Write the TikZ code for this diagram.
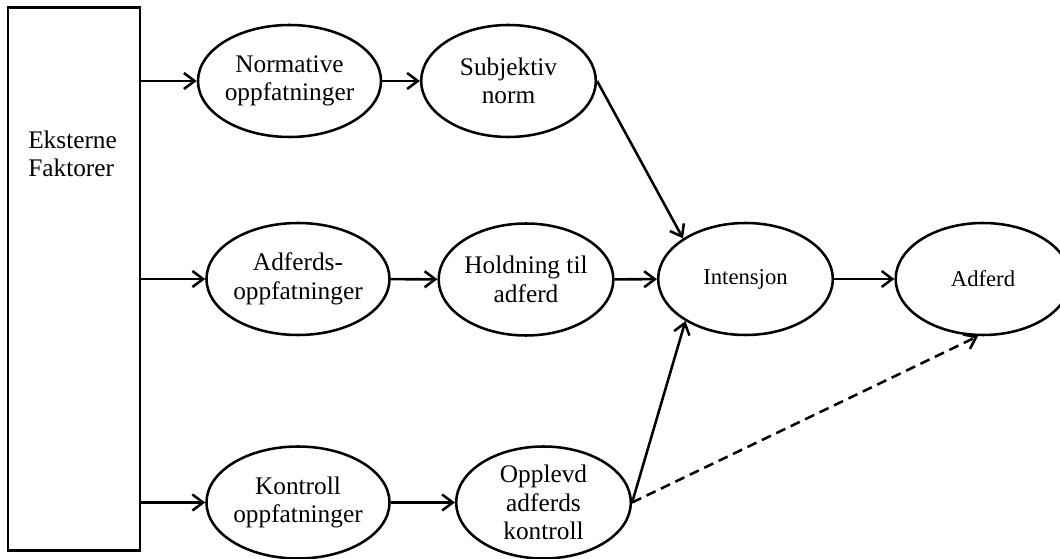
\documentclass[tikz,border=0pt]{standalone}
\usepackage{fontspec}
\setmainfont{Liberation Serif}
\usetikzlibrary{arrows.meta,shapes.geometric}
\begin{document}
\begin{tikzpicture}[x=0.75pt,y=-0.75pt,line width=1.9pt,
	every node/.style={font=\fontsize{19}{21.5}\selectfont},
	concept/.style={draw,ellipse,inner sep=0pt,minimum width=131pt,minimum height=84pt,align=center},
	small/.style={font=\fontsize{17}{20}\selectfont},
	link/.style={-{Straight Barb[length=8pt,width=12pt]}}]
	\useasboundingbox (0,0) rectangle (1060,559);
	\node [draw,inner sep=0pt,minimum width=99pt,minimum height=407pt] (ext) at (74,279) {};
	\node [anchor=west,align=left,inner sep=0pt] (extlabel) at (27,154) {Eksterne\\Faktorer};
	\node [concept] (norm) at (289.5,81) {Normative\\oppfatninger};
	\node [concept] (subj) at (508.5,81) {Subjektiv\\norm};
	\node [concept] (adfo) at (298,279) {Adferds-\\oppfatninger};
	\node [concept] (hold) at (526,279.5) {Holdning til\\adferd};
	\node [concept,small] (int) at (745.5,279) {Intensjon};
	\node [concept,small] (adf) at (983,279) {Adferd};
	\node [concept] (kont) at (298,502.5) {Kontroll\\oppfatninger};
	\node [concept] (oppl) at (543.5,502.5) {Opplevd\\adferds\\kontroll};
	\draw [link] (ext.east |- norm.west) -- (norm.west);
	\draw [link] (norm) -- (subj);
	\draw [link] (ext.east |- adfo.west) -- (adfo.west);
	\draw [link] (adfo) -- (hold);
	\draw [link] (ext.east |- kont.west) -- (kont.west);
	\draw [link] (kont) -- (oppl);
	\draw [link] (hold) -- (int);
	\draw [link] (int) -- (adf);
	\draw [link] (subj.east) -- (int.147);
	\draw [link] (oppl.east) -- (int.215);
	\draw [link,dashed,dash pattern=on 7.5pt off 4.5pt] (oppl.east) -- (adf.265);
\end{tikzpicture}
\end{document}
